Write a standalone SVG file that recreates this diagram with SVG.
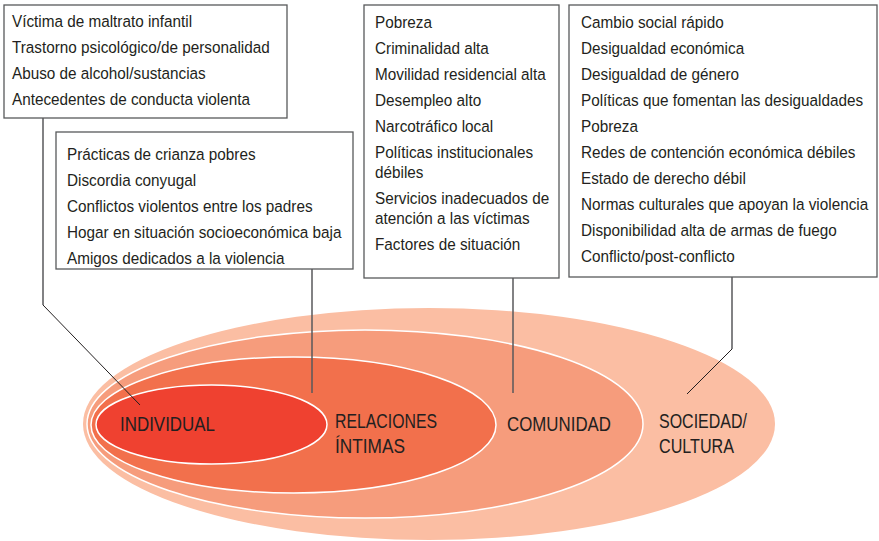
<svg xmlns="http://www.w3.org/2000/svg" width="879" height="541" viewBox="0 0 879 541">
<style>
.box{fill:#fff;stroke:#58595b;stroke-width:1.3}
.t{font-family:"Liberation Sans",Arial,sans-serif;font-size:17px;fill:#231f20}
.lab{font-family:"Liberation Sans",Arial,sans-serif;font-size:21px;fill:#231f20}
.ring{stroke:#fff;stroke-width:1.5}
.con{fill:none;stroke:#58595b;stroke-width:1.5}
.diag{fill:none;stroke:#231f20;stroke-width:1}
</style>
<rect width="879" height="541" fill="#fff"/>
<g id="rings">
<ellipse id="sociedad" cx="429" cy="424" rx="346" ry="116" fill="#fbbea3"/>
<ellipse id="comunidad" class="ring" cx="365" cy="424" rx="278" ry="94" fill="#f69c7c"/>
<ellipse id="relaciones" class="ring" cx="293.5" cy="425" rx="202.5" ry="68" fill="#f2704c"/>
<ellipse id="individual" class="ring" cx="211.5" cy="424.5" rx="115.5" ry="39.5" fill="#ef4130"/>
</g>
<g id="labels">
<text class="lab" x="120" y="431" textLength="95" lengthAdjust="spacingAndGlyphs">INDIVIDUAL</text>
<text class="lab" x="335" y="428" textLength="102" lengthAdjust="spacingAndGlyphs">RELACIONES</text>
<text class="lab" x="335" y="453" textLength="70" lengthAdjust="spacingAndGlyphs">ÍNTIMAS</text>
<text class="lab" x="507" y="431" textLength="104" lengthAdjust="spacingAndGlyphs">COMUNIDAD</text>
<text class="lab" x="659" y="428" textLength="88" lengthAdjust="spacingAndGlyphs">SOCIEDAD/</text>
<text class="lab" x="659" y="453" textLength="75" lengthAdjust="spacingAndGlyphs">CULTURA</text>
</g>
<g id="connectors">
<polyline class="con" points="43,118 43,305"/>
<line class="diag" x1="43" y1="305" x2="140" y2="405"/>
<line class="con" x1="312" y1="269" x2="312" y2="393"/>
<line class="con" x1="513" y1="278" x2="513" y2="393"/>
<polyline class="con" points="732,277 732,349"/>
<line class="diag" x1="732" y1="349" x2="687" y2="394"/>
</g>
<g id="box-individual">
<rect class="box" x="4" y="5" width="283" height="113"/>
<g transform="translate(12 0) scale(0.9 1)">
<text class="t" x="0" y="27">Víctima de maltrato infantil</text>
<text class="t" x="0" y="53">Trastorno psicológico/de personalidad</text>
<text class="t" x="0" y="79">Abuso de alcohol/sustancias</text>
<text class="t" x="0" y="105">Antecedentes de conducta violenta</text>
</g>
</g>
<g id="box-relaciones">
<rect class="box" x="56" y="132" width="297" height="137"/>
<g transform="translate(67 0) scale(0.9 1)">
<text class="t" x="0" y="160">Prácticas de crianza pobres</text>
<text class="t" x="0" y="186">Discordia conyugal</text>
<text class="t" x="0" y="212">Conflictos violentos entre los padres</text>
<text class="t" x="0" y="238">Hogar en situación socioeconómica baja</text>
<text class="t" x="0" y="264">Amigos dedicados a la violencia</text>
</g>
</g>
<g id="box-comunidad">
<rect class="box" x="364" y="5" width="195" height="273"/>
<g transform="translate(375 0) scale(0.9 1)">
<text class="t" x="0" y="28">Pobreza</text>
<text class="t" x="0" y="54">Criminalidad alta</text>
<text class="t" x="0" y="80">Movilidad residencial alta</text>
<text class="t" x="0" y="106">Desempleo alto</text>
<text class="t" x="0" y="132">Narcotráfico local</text>
<text class="t" x="0" y="158">Políticas institucionales</text>
<text class="t" x="0" y="178">débiles</text>
<text class="t" x="0" y="204">Servicios inadecuados de</text>
<text class="t" x="0" y="224">atención a las víctimas</text>
<text class="t" x="0" y="250">Factores de situación</text>
</g>
</g>
<g id="box-sociedad">
<rect class="box" x="569" y="5" width="308" height="272"/>
<g transform="translate(581 0) scale(0.9 1)">
<text class="t" x="0" y="28">Cambio social rápido</text>
<text class="t" x="0" y="54">Desigualdad económica</text>
<text class="t" x="0" y="80">Desigualdad de género</text>
<text class="t" x="0" y="106">Políticas que fomentan las desigualdades</text>
<text class="t" x="0" y="132">Pobreza</text>
<text class="t" x="0" y="158">Redes de contención económica débiles</text>
<text class="t" x="0" y="184">Estado de derecho débil</text>
<text class="t" x="0" y="210">Normas culturales que apoyan la violencia</text>
<text class="t" x="0" y="236">Disponibilidad alta de armas de fuego</text>
<text class="t" x="0" y="262">Conflicto/post-conflicto</text>
</g>
</g>
</svg>
